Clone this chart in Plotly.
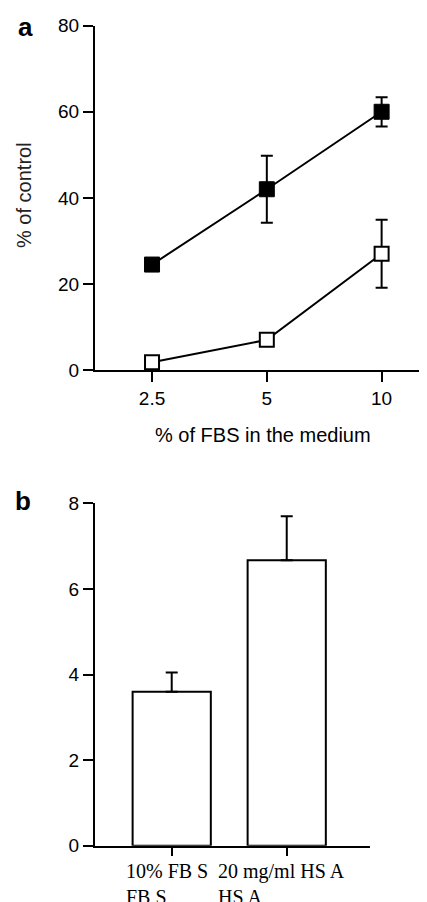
import plotly.graph_objects as go

# ---- Panel a data ----
fbs_pct = [2.5, 5, 10]
filled_vals = [24.5, 42, 60]
filled_err = [0, 7.8, 3.4]
open_vals = [1.8, 7, 27]
open_err = [0, 0, 7.9]
a_yticks = [0, 20, 40, 60, 80]
a_xtick_text = ["2.5", "5", "10"]

# ---- Panel b data ----
bar_cats = [0, 1]
bar_labels = ["10% FB S<br>FB S", "20 mg/ml HS A<br>HS A"]
bar_vals = [3.6, 6.67]
bar_err = [0.45, 1.03]
b_yticks = [0, 2, 4, 6, 8]

# page offset of the plot div (default body margin)
OFF = 8
W, H = 427 - OFF, 902 - OFF


def px(x):
    return (x - OFF) / W


def py(y):
    return 1 - (y - OFF) / H


SANS = "Liberation Sans, Arial, Helvetica, sans-serif"
SERIF = "Liberation Serif, Times New Roman, serif"

fig = go.Figure()

fig.add_trace(go.Scatter(
    x=fbs_pct, y=filled_vals, mode="lines+markers",
    line=dict(color="black", width=2),
    marker=dict(symbol="square", size=15, color="black", line=dict(color="black", width=1)),
    error_y=dict(type="data", array=filled_err, visible=True, color="black", thickness=2, width=6),
    xaxis="x", yaxis="y", showlegend=False))

fig.add_trace(go.Scatter(
    x=fbs_pct, y=open_vals, mode="lines+markers",
    line=dict(color="black", width=2),
    marker=dict(symbol="square", size=14, color="white", line=dict(color="black", width=2)),
    error_y=dict(type="data", array=open_err, visible=True, color="black", thickness=2, width=6),
    xaxis="x", yaxis="y", showlegend=False))

fig.add_trace(go.Bar(
    x=bar_cats, y=bar_vals, width=0.68,
    marker=dict(color="white", line=dict(color="black", width=2)),
    error_y=dict(type="data", symmetric=False, array=bar_err, arrayminus=[0, 0],
                 visible=True, color="black", thickness=2, width=6),
    xaxis="x2", yaxis="y2", showlegend=False))

axis_common = dict(showline=True, linecolor="black", linewidth=2, ticks="outside",
                   tickcolor="black", tickwidth=2, showgrid=False, zeroline=False,
                   automargin=False,
                   tickfont=dict(family=SANS, size=19, color="black"))

fig.update_layout(
    width=W, height=H, margin=dict(l=0, r=0, t=0, b=0, pad=0, autoexpand=False),
    paper_bgcolor="white", plot_bgcolor="white", showlegend=False,
    xaxis=dict(domain=[px(95), 1.0], anchor="y", type="log",
               range=[0.2484, 1.119], tickvals=fbs_pct, ticktext=a_xtick_text,
               ticklen=10, **axis_common),
    yaxis=dict(domain=[py(370), py(25.7)], anchor="x", range=[0, 80],
               tickvals=a_yticks, ticklen=10, **axis_common),
    xaxis2=dict(domain=[px(95), px(370)], anchor="y2", range=[-0.667, 1.724],
                tickvals=bar_cats, showticklabels=False, ticklen=8, **axis_common),
    yaxis2=dict(domain=[py(845.7), py(503.4)], anchor="x2", range=[0, 8],
                tickvals=b_yticks, ticklen=10, **axis_common),
)

annots = [
    dict(text="<b>a</b>", x=px(25), y=py(27), xref="paper", yref="paper",
         xanchor="center", yanchor="middle",
         showarrow=False, font=dict(family=SANS, size=26, color="black")),
    dict(text="<b>b</b>", x=px(23), y=py(501), xref="paper", yref="paper",
         xanchor="center", yanchor="middle",
         showarrow=False, font=dict(family=SANS, size=26, color="black")),
    dict(text="% of control", x=px(24), y=py(195), xref="paper", yref="paper",
         xanchor="center", yanchor="middle",
         textangle=-90, showarrow=False, font=dict(family=SANS, size=20, color="#222")),
    dict(text="% of FBS in the medium", x=px(263), y=py(435), xref="paper", yref="paper",
         xanchor="center", yanchor="middle",
         showarrow=False, font=dict(family=SANS, size=20, color="black")),
]
for cat, lab in zip(bar_cats, bar_labels):
    annots.append(dict(text=lab, x=cat, y=py(858), xref="x2", yref="paper",
                       yanchor="top", xanchor="center", align="left", xshift=-5,
                       showarrow=False, font=dict(family=SERIF, size=20, color="black")))
fig.update_layout(annotations=annots)

fig.write_html("out.html")
